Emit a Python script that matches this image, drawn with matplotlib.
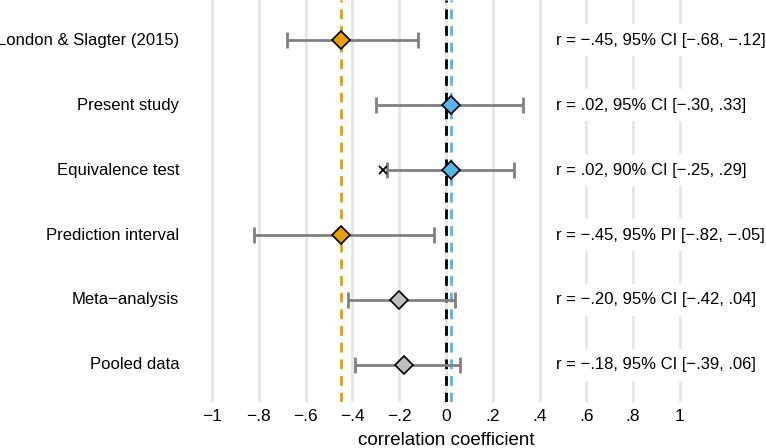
import matplotlib
matplotlib.use("Agg")
import matplotlib.pyplot as plt

plt.rcParams['font.family'] = ['Liberation Sans', 'DejaVu Sans']

labels = ["London & Slagter (2015)", "Present study", "Equivalence test",
          "Prediction interval", "Meta\u2212analysis", "Pooled data"]
r_vals = [-0.45, 0.02, 0.02, -0.45, -0.20, -0.18]
lo_vals = [-0.68, -0.30, -0.25, -0.82, -0.42, -0.39]
hi_vals = [-0.12, 0.33, 0.29, -0.05, 0.04, 0.06]
colors = ["#E69F00", "#56B4E9", "#56B4E9", "#E69F00", "#BEBEBE", "#BEBEBE"]
annot = ["r = \u2212.45, 95% CI [\u2212.68, \u2212.12]",
         "r = .02, 95% CI [\u2212.30, .33]",
         "r = .02, 90% CI [\u2212.25, .29]",
         "r = \u2212.45, 95% PI [\u2212.82, \u2212.05]",
         "r = \u2212.20, 95% CI [\u2212.42, .04]",
         "r = \u2212.18, 95% CI [\u2212.39, .06]"]
sesoi = -0.27
ticks = [-1, -0.8, -0.6, -0.4, -0.2, 0, 0.2, 0.4, 0.6, 0.8, 1]
tick_labels = ["\u22121", "\u2212.8", "\u2212.6", "\u2212.4", "\u2212.2", "0",
               ".2", ".4", ".6", ".8", "1"]

fig = plt.figure(figsize=(7.66, 4.48), dpi=100)
ax = fig.add_axes([0, 0.103, 1, 0.897])
ax.set_xlim(-1.906, 1.368)
n = len(labels)
ypos = list(range(n, 0, -1))
ax.set_ylim(0.43, n + 0.62)

for t in ticks:
    ax.axvline(t, color="#e6e6e6", lw=2, zorder=0)

ax.axvline(r_vals[0], color="#E69F00", ls=(0, (3.5, 2.5)), lw=2, zorder=1)
ax.axvline(0, color="black", ls=(0, (3.5, 2.5)), lw=2, zorder=1)
ax.axvline(r_vals[1], color="#56B4E9", ls=(0, (3.5, 2.5)), lw=2, zorder=1)

for y, r, lo, hi, c, a, lab in zip(ypos, r_vals, lo_vals, hi_vals, colors, annot, labels):
    ax.errorbar([r], [y], xerr=[[r - lo], [hi - r]], fmt="none", ecolor="#808080",
                elinewidth=2, capsize=6, capthick=2, zorder=3)
    ax.plot([r], [y], marker="D", ms=9, mfc=c, mec="black", mew=1.2, zorder=4, ls="none")
    ax.text(0.47, y, a, ha="left", va="center", fontsize=12, zorder=2,
            bbox=dict(facecolor="white", edgecolor="none", pad=6))
    ax.text(-1.14, y, lab, ha="right", va="center", fontsize=12, zorder=2)

ax.plot([sesoi], [ypos[2]], marker="x", ms=6, mew=1.3, color="black", ls="none", zorder=4)

ax.set_xticks(ticks)
ax.set_xticklabels(tick_labels, fontsize=12.5)
ax.set_yticks([])
ax.tick_params(axis="x", length=0, pad=5)
for s in ax.spines.values():
    s.set_visible(False)
fig.text(446 / 766, 1 - 440 / 448, "correlation coefficient", ha="center", va="center", fontsize=13.5)

fig.savefig("out.png", dpi=100)
